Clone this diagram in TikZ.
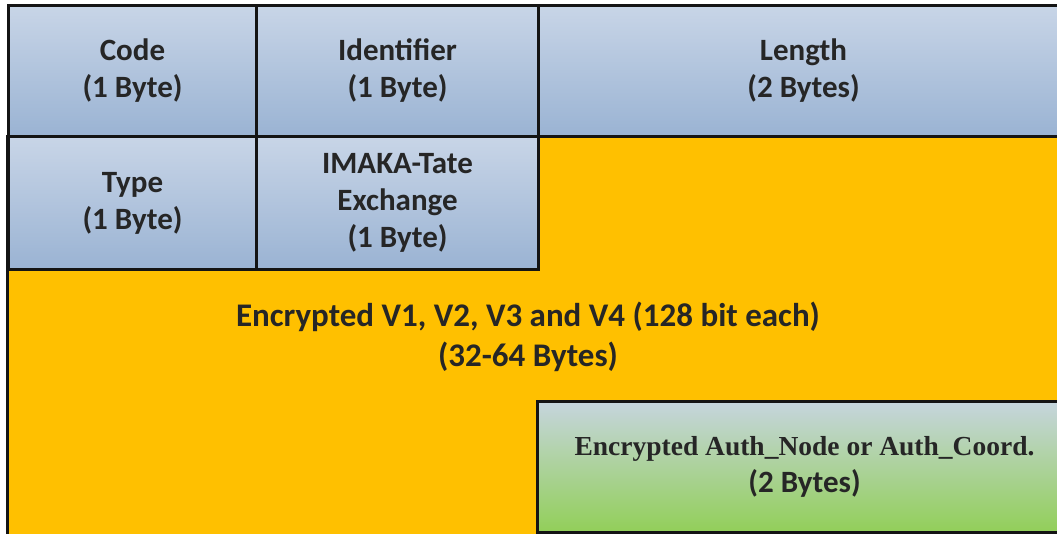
\documentclass[tikz,border=0pt]{standalone}
\usepackage{fontspec}
\setmainfont{Carlito}
\newfontfamily\serifbold{Liberation Serif}
\usetikzlibrary{positioning}
\definecolor{hdrtop}{HTML}{C8D5E7}
\definecolor{hdrbot}{HTML}{9AB3D3}
\definecolor{payload}{HTML}{FFC000}
\definecolor{authtop}{HTML}{C6D5DE}
\definecolor{authbot}{HTML}{92CF58}
\definecolor{edge}{HTML}{141414}
\tikzset{
  field/.style={draw=edge, line width=3pt, anchor=north west, align=center,
    inner sep=0pt, font=\fontsize{31}{37}\selectfont\bfseries, text=black!85},
  hdr/.style={field, top color=hdrtop, bottom color=hdrbot},
  authbox/.style={field, top color=authtop, bottom color=authbot},
}
\begin{document}
\begin{tikzpicture}[x=1pt,y=-1pt]
\useasboundingbox (0,0) rectangle (1057,533);
\clip (0,0) rectangle (1057,533);
% payload area behind the header fields
\fill[payload] (7,135) rectangle (1070,545);
\draw[edge, line width=3pt] (7,135) -- (7,545);
% header fields
\node[hdr, minimum width=248pt, minimum height=131pt] (code) at (7,4)
  {Code\\(1 Byte)};
\node[hdr, minimum width=282pt, minimum height=131pt] (ident) at (255,4)
  {Identifier\\(1 Byte)};
\node[hdr, minimum width=530pt, minimum height=131pt] (len) at (537,4)
  {Length\\(2 Bytes)};
\node[hdr, minimum width=248pt, minimum height=133pt] (type) at (7,135)
  {Type\\(1 Byte)};
\node[hdr, minimum width=282pt, minimum height=133pt] (imaka) at (255,135)
  {IMAKA-Tate\\Exchange\\(1 Byte)};
% encrypted payload label
\node[align=center, font=\fontsize{33}{40}\selectfont\bfseries, text=black!85]
  (enc) at (528,337) {Encrypted V1, V2, V3 and V4 (128 bit each)\\(32-64 Bytes)};
% authentication field
\node[authbox, minimum width=534pt, minimum height=131pt] (auth) at (536,400)
  {{\serifbold\fontsize{27.5}{36}\selectfont Encrypted Auth\_Node or Auth\_Coord.}\\(2 Bytes)};
\end{tikzpicture}
\end{document}
